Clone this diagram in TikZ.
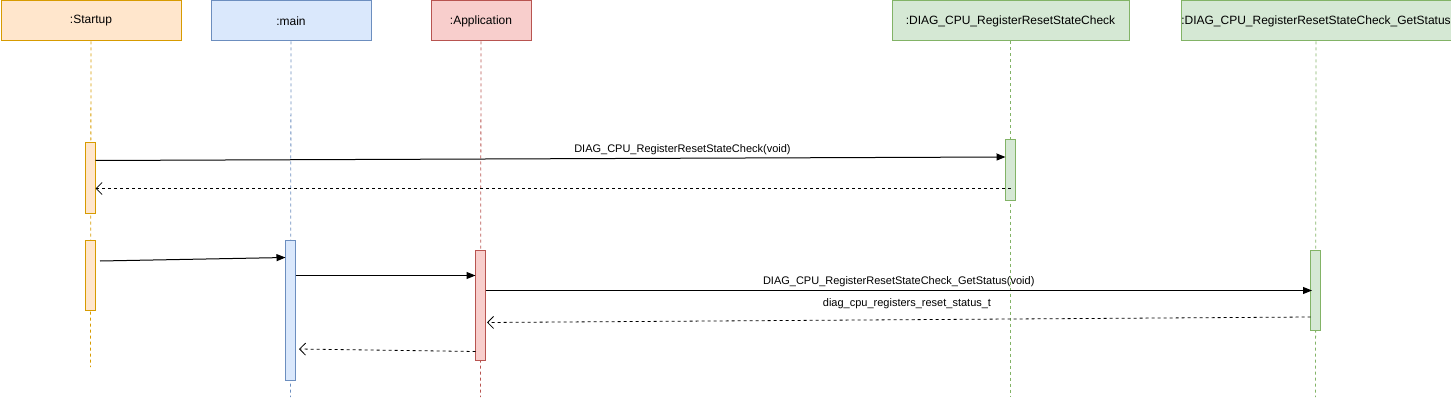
\documentclass[tikz,border=0pt]{standalone}
\usepackage{fontspec}
\setmainfont{Liberation Sans}
\usetikzlibrary{arrows.meta}
\definecolor{orF}{HTML}{FFE6CC}\definecolor{orD}{HTML}{D79B00}
\definecolor{blF}{HTML}{DAE8FC}\definecolor{blD}{HTML}{6C8EBF}
\definecolor{rdF}{HTML}{F8CECC}\definecolor{rdD}{HTML}{B85450}
\definecolor{grF}{HTML}{D5E8D4}\definecolor{grD}{HTML}{82B366}
\tikzset{
  hdr/.style={draw=#1D, fill=#1F, line width=1pt, inner sep=0pt, anchor=north west, font=\fontsize{12}{14}\selectfont},
  life/.style={draw=#1D, line width=0.8pt, dash pattern=on 3pt off 3pt},
  actbox/.style={draw=#1D, fill=#1F, line width=1pt},
  msg/.style={line width=1pt, -{Triangle[length=9pt,width=7pt]}},
  ret/.style={line width=0.8pt, dash pattern=on 3pt off 3pt, -{Straight Barb[length=6pt,width=12pt,line width=0.8pt]}},
  lbl/.style={font=\fontsize{11}{13}\selectfont, inner sep=1pt}
}
\begin{document}
\begin{tikzpicture}[x=1pt,y=-1pt]
\useasboundingbox (0,0) rectangle (1451,401);
% headers
\node[hdr=or, minimum width=180pt, minimum height=40pt] (hS) at (0.5,0.5) {:Startup};
\node[hdr=bl, minimum width=160pt, minimum height=40pt] (hM) at (210.5,0.5) {:main};
\node[hdr=rd, minimum width=100pt, minimum height=40pt] (hA) at (430.5,0.5) {:Application};
\node[hdr=gr, minimum width=237pt, minimum height=40pt] (hD) at (891.5,0.5) {:DIAG\_CPU\_RegisterResetStateCheck};
\node[hdr=gr, minimum width=270pt, minimum height=40pt] (hG) at (1180.5,0.5) {:DIAG\_CPU\_RegisterResetStateCheck\_GetStatus};
% lifeline ends
\coordinate (eS) at (90.5,367);
\coordinate (eM) at (290.5,397);
\coordinate (eA) at (480.5,397);
\coordinate (eD) at (1010.5,397);
\coordinate (eG) at (1315.5,397);
\draw[life=or] (hS.south) -- (eS);
\draw[life=bl] (hM.south) -- (eM);
\draw[life=rd] (hA.south) -- (eA);
\draw[life=gr] (hD.south) -- (eD);
\draw[life=gr] (hG.south) -- (eG);
% activations
\draw[actbox=or] (85.5,143) rectangle (95.5,213);
\draw[actbox=or] (85.5,240) rectangle (95.5,310);
\draw[actbox=gr] (1005.5,140) rectangle (1015.5,200);
\draw[actbox=bl] (285.5,240) rectangle (295.5,380);
\draw[actbox=rd] (475.5,250) rectangle (485.5,360);
\draw[actbox=gr] (1310.5,250) rectangle (1320.5,330);
% message end points
\coordinate (m1a) at (95.5,160.5); \coordinate (m1b) at (1005.5,157);
\coordinate (r1a) at (1010.5,188.5); \coordinate (r1b) at (95.5,188.5);
\coordinate (m2a) at (100,261); \coordinate (m2b) at (285.5,257.5);
\coordinate (m3a) at (295.5,275.5); \coordinate (m3b) at (475.5,275.5);
\coordinate (m4a) at (485.5,290.5); \coordinate (m4b) at (1312,290.5);
\coordinate (r2a) at (1310.5,317); \coordinate (r2b) at (487,322.5);
\coordinate (r3a) at (475.5,351.5); \coordinate (r3b) at (299,349);
% messages
\draw[msg] (m1a) -- (m1b) node[lbl, pos=0.645, above=2pt] (l1) {DIAG\_CPU\_RegisterResetStateCheck(void)};
\draw[ret] (r1a) -- (r1b);
\draw[msg] (m2a) -- (m2b);
\draw[msg] (m3a) -- (m3b);
\draw[msg] (m4a) -- (m4b) node[lbl, pos=0.5, above=2pt] (l4) {DIAG\_CPU\_RegisterResetStateCheck\_GetStatus(void)};
\draw[ret] (r2a) -- (r2b) node[lbl, pos=0.49, above=10pt] (l5) {diag\_cpu\_registers\_reset\_status\_t};
\draw[ret] (r3a) -- (r3b);
\end{tikzpicture}
\end{document}
